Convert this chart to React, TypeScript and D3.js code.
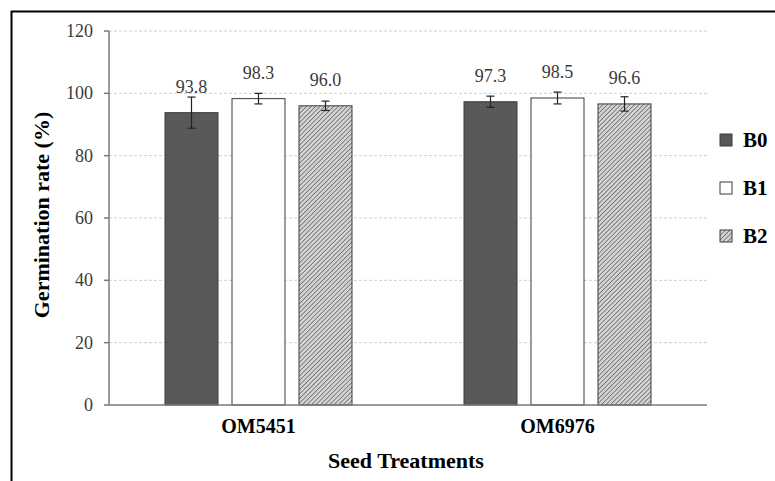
import React from "react";
import * as d3 from "d3";

const categories = ["OM5451", "OM6976"];
const series = ["B0", "B1", "B2"];
const valuesB0 = [93.8, 97.3];
const valuesB1 = [98.3, 98.5];
const valuesB2 = [96.0, 96.6];
const errB0 = [5.0, 1.8];
const errB1 = [1.7, 1.9];
const errB2 = [1.5, 2.3];
const yTicks = [0, 20, 40, 60, 80, 100, 120];

const W = 775, H = 481;
const plot = { left: 109, right: 707, top: 31, bottom: 405 };
const font = "Liberation Serif, Times New Roman, serif";

export default function App() {
  const values = [valuesB0, valuesB1, valuesB2];
  const errs = [errB0, errB1, errB2];
  const x0 = d3.scaleBand<string>().domain(categories).range([plot.left, plot.right]).paddingInner(0).paddingOuter(0);
  const x1 = d3.scaleBand<string>().domain(series).range([-93.5, 93.5]).paddingInner(0.209).paddingOuter(0);
  const y = d3.scaleLinear().domain([0, 120]).range([plot.bottom, plot.top]);
  const fills = ["#595959", "#ffffff", "url(#hatch)"];
  const legendY = [140, 188, 236];

  return (
    <svg width={W} height={H} style={{ position: "absolute", left: 0, top: 0, background: "#fff" }}>
      <defs>
        <pattern id="hatch" patternUnits="userSpaceOnUse" width="3.2" height="3.2" patternTransform="rotate(45)">
          <rect width="3.2" height="3.2" fill="#d4d4d4" />
          <line x1="0" y1="0" x2="0" y2="3.2" stroke="#555" strokeWidth="1.3" />
        </pattern>
      </defs>
      <rect x={0} y={0} width={W} height={H} fill="#fff" />
      {/* frame */}
      <line x1={11} y1={11.5} x2={W} y2={11.5} stroke="#000" strokeWidth={2} />
      <line x1={11.5} y1={11} x2={11.5} y2={H} stroke="#000" strokeWidth={2} />

      {/* gridlines */}
      {yTicks.filter(t => t > 0).map(t => (
        <line key={t} x1={plot.left} x2={plot.right} y1={y(t)} y2={y(t)} stroke="#cfcfcf" strokeWidth={1} strokeDasharray="3,2" />
      ))}

      {/* bars */}
      {categories.map((c, ci) => (
        <g key={c} transform={`translate(${x0(c)! + x0.bandwidth() / 2},0)`}>
          {series.map((s, si) => {
            const v = values[si][ci];
            const e = errs[si][ci];
            const bx = x1(s)!;
            const bw = x1.bandwidth();
            const cx = bx + bw / 2;
            return (
              <g key={s}>
                <rect x={bx} y={y(v)} width={bw} height={y(0) - y(v)} fill={fills[si]} stroke="#3a3a3a" strokeWidth={1} />
                <line x1={cx} x2={cx} y1={y(v + e)} y2={y(v - e)} stroke="#222" strokeWidth={1.2} />
                <line x1={cx - 4} x2={cx + 4} y1={y(v + e)} y2={y(v + e)} stroke="#222" strokeWidth={1.2} />
                <line x1={cx - 4} x2={cx + 4} y1={y(v - e)} y2={y(v - e)} stroke="#222" strokeWidth={1.2} />
                <text x={cx} y={y(v) - 20} textAnchor="middle" fontFamily={font} fontSize={18} fill="#3a3a3a">{v.toFixed(1)}</text>
              </g>
            );
          })}
          <text x={0} y={433} textAnchor="middle" fontFamily={font} fontSize={20} fontWeight="bold" fill="#000">{c}</text>
        </g>
      ))}

      {/* axes */}
      <line x1={plot.left} x2={plot.right} y1={plot.bottom} y2={plot.bottom} stroke="#7a7a7a" strokeWidth={1.5} />
      <line x1={plot.left} x2={plot.left} y1={plot.top} y2={plot.bottom} stroke="#7a7a7a" strokeWidth={1.5} />
      {yTicks.map(t => (
        <g key={t}>
          <line x1={plot.left - 5} x2={plot.left} y1={y(t)} y2={y(t)} stroke="#7a7a7a" strokeWidth={1.5} />
          <text x={plot.left - 16} y={y(t)} dy="0.33em" textAnchor="end" fontFamily={font} fontSize={18} fill="#3a3a3a">{t}</text>
        </g>
      ))}

      <text transform={`translate(49,215) rotate(-90)`} textAnchor="middle" fontFamily={font} fontSize={22} fontWeight="bold" fill="#000">Germination rate (%)</text>
      <text x={406} y={468} textAnchor="middle" fontFamily={font} fontSize={22} fontWeight="bold" fill="#000">Seed Treatments</text>

      {/* legend */}
      {series.map((s, si) => (
        <g key={s}>
          <rect x={720} y={legendY[si] - 6} width={12} height={12} fill={fills[si]} stroke="#3a3a3a" strokeWidth={1} />
          <text x={743} y={legendY[si]} dy="0.35em" fontFamily={font} fontSize={21} fontWeight="bold" fill="#000">{s}</text>
        </g>
      ))}
    </svg>
  );
}
